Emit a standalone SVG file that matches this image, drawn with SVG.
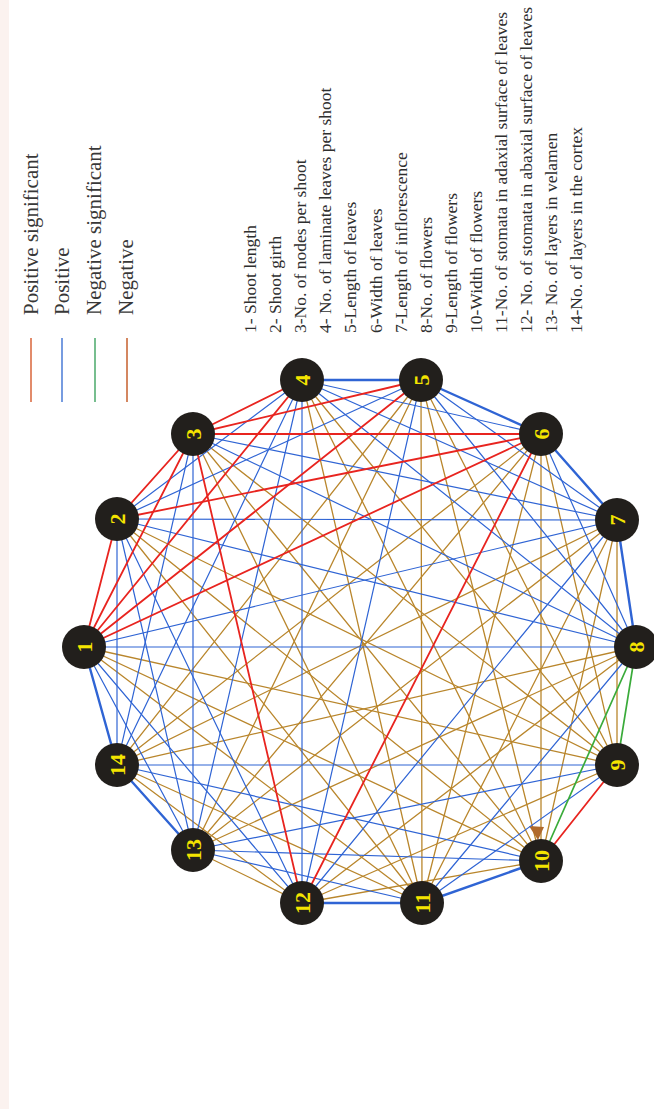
<svg xmlns="http://www.w3.org/2000/svg" width="654" height="1109" viewBox="0 0 654 1109">
<style>
.e line{fill:none;stroke-linecap:round}
.r{stroke:#e8241f;stroke-width:1.8}
.b{stroke:#2f64d4;stroke-width:1.2}
.n{stroke:#b9862c;stroke-width:1.3}
.g{stroke:#3aab3a;stroke-width:1.7}
.p{stroke-width:2.4}
.node ellipse{fill:#221f1c}
.node text{font-family:"Liberation Serif","Times New Roman",serif;font-weight:bold;font-size:22px;fill:#f4e400;text-anchor:middle}
.leg{font-family:"Liberation Serif","Times New Roman",serif;font-size:21px;fill:#383838}
.lst{font-family:"Liberation Serif","Times New Roman",serif;font-size:17.5px;fill:#2f2f2f}
</style>
<rect width="654" height="1109" fill="#ffffff"/>
<rect x="0" y="0" width="9" height="1109" fill="#fbf2ef"/>

<g id="legend">
<line x1="31" y1="338" x2="31" y2="402" stroke="#d8643a" stroke-width="1.5"/>
<line x1="62" y1="338" x2="62" y2="402" stroke="#4a7bd6" stroke-width="1.5"/>
<line x1="95" y1="338" x2="95" y2="402" stroke="#4aa96a" stroke-width="1.5"/>
<line x1="127" y1="338" x2="127" y2="402" stroke="#c65f2c" stroke-width="1.5"/>
<text class="leg" transform="translate(38,315) rotate(-90)">Positive significant</text>
<text class="leg" transform="translate(69,315) rotate(-90)">Positive</text>
<text class="leg" transform="translate(101,315) rotate(-90)">Negative significant</text>
<text class="leg" transform="translate(133,315) rotate(-90)">Negative</text>
</g>

<g id="variable-list">
<text class="lst" transform="translate(256,333) rotate(-90)">1- Shoot length</text>
<text class="lst" transform="translate(281,333) rotate(-90)">2- Shoot girth</text>
<text class="lst" transform="translate(306,333) rotate(-90)">3-No. of nodes per shoot</text>
<text class="lst" transform="translate(331,333) rotate(-90)">4- No. of laminate leaves per shoot</text>
<text class="lst" transform="translate(356,333) rotate(-90)">5-Length of leaves</text>
<text class="lst" transform="translate(382,333) rotate(-90)">6-Width of leaves</text>
<text class="lst" transform="translate(407,333) rotate(-90)">7-Length of inflorescence</text>
<text class="lst" transform="translate(432,333) rotate(-90)">8-No. of flowers</text>
<text class="lst" transform="translate(457,333) rotate(-90)">9-Length of flowers</text>
<text class="lst" transform="translate(482,333) rotate(-90)">10-Width of flowers</text>
<text class="lst" transform="translate(507,333) rotate(-90)">11-No. of stomata in adaxial surface of leaves</text>
<text class="lst" transform="translate(532,333) rotate(-90)">12- No. of stomata in abaxial surface of leaves</text>
<text class="lst" transform="translate(557,333) rotate(-90)">13- No. of layers in velamen</text>
<text class="lst" transform="translate(582,333) rotate(-90)">14-No. of layers in the cortex</text>
</g>

<g id="connectors" class="e">
<line class="n" x1="84" y1="647" x2="617" y2="765"/>
<line class="n" x1="84" y1="647" x2="541" y2="861"/>
<line class="n" x1="84" y1="647" x2="422" y2="903"/>
<line class="n" x1="117" y1="519" x2="617" y2="765"/>
<line class="n" x1="117" y1="519" x2="541" y2="861"/>
<line class="n" x1="117" y1="519" x2="422" y2="903"/>
<line class="n" x1="193" y1="434" x2="617" y2="765"/>
<line class="n" x1="193" y1="434" x2="541" y2="861"/>
<line class="n" x1="193" y1="434" x2="422" y2="903"/>
<line class="n" x1="302" y1="380" x2="617" y2="765"/>
<line class="n" x1="302" y1="380" x2="541" y2="861"/>
<line class="n" x1="302" y1="380" x2="422" y2="903"/>
<line class="n" x1="421" y1="380" x2="617" y2="765"/>
<line class="n" x1="421" y1="380" x2="541" y2="861"/>
<line class="n" x1="421" y1="380" x2="422" y2="903"/>
<line class="n" x1="421" y1="380" x2="193" y2="850"/>
<line class="n" x1="421" y1="380" x2="117" y2="765"/>
<line class="n" x1="541" y1="434" x2="617" y2="765"/>
<line class="n" x1="541" y1="434" x2="541" y2="861"/>
<line class="n" x1="541" y1="434" x2="422" y2="903"/>
<line class="n" x1="541" y1="434" x2="193" y2="850"/>
<line class="n" x1="541" y1="434" x2="117" y2="765"/>
<line class="n" x1="617" y1="520" x2="617" y2="765"/>
<line class="n" x1="617" y1="520" x2="541" y2="861"/>
<line class="n" x1="617" y1="520" x2="422" y2="903"/>
<line class="n" x1="617" y1="520" x2="193" y2="850"/>
<line class="n" x1="617" y1="520" x2="117" y2="765"/>
<line class="n" x1="636" y1="647" x2="302" y2="903"/>
<line class="n" x1="636" y1="647" x2="193" y2="850"/>
<line class="n" x1="636" y1="647" x2="117" y2="765"/>
<line class="n" x1="617" y1="765" x2="302" y2="903"/>
<line class="n" x1="541" y1="861" x2="302" y2="903"/>
<line class="n" x1="422" y1="903" x2="117" y2="765"/>
<line class="n" x1="302" y1="903" x2="193" y2="850"/>
<line class="n" x1="302" y1="903" x2="117" y2="765"/>
<polygon points="529,826 544,827 538,840" fill="#b06a2c"/>
<line class="b" x1="84" y1="647" x2="617" y2="520"/>
<line class="b" x1="84" y1="647" x2="636" y2="647"/>
<line class="b" x1="84" y1="647" x2="302" y2="903"/>
<line class="b" x1="84" y1="647" x2="193" y2="850"/>
<line class="b p" x1="84" y1="647" x2="117" y2="765"/>
<line class="b" x1="117" y1="519" x2="302" y2="380"/>
<line class="b" x1="117" y1="519" x2="421" y2="380"/>
<line class="b" x1="117" y1="519" x2="617" y2="520"/>
<line class="b" x1="117" y1="519" x2="636" y2="647"/>
<line class="b" x1="117" y1="519" x2="302" y2="903"/>
<line class="b" x1="117" y1="519" x2="193" y2="850"/>
<line class="b" x1="117" y1="519" x2="117" y2="765"/>
<line class="b" x1="193" y1="434" x2="617" y2="520"/>
<line class="b" x1="193" y1="434" x2="636" y2="647"/>
<line class="b" x1="193" y1="434" x2="193" y2="850"/>
<line class="b" x1="193" y1="434" x2="117" y2="765"/>
<line class="b p" x1="302" y1="380" x2="421" y2="380"/>
<line class="b" x1="302" y1="380" x2="541" y2="434"/>
<line class="b" x1="302" y1="380" x2="617" y2="520"/>
<line class="b" x1="302" y1="380" x2="636" y2="647"/>
<line class="b" x1="302" y1="380" x2="302" y2="903"/>
<line class="b" x1="302" y1="380" x2="193" y2="850"/>
<line class="b" x1="302" y1="380" x2="117" y2="765"/>
<line class="b p" x1="421" y1="380" x2="541" y2="434"/>
<line class="b" x1="421" y1="380" x2="617" y2="520"/>
<line class="b" x1="421" y1="380" x2="636" y2="647"/>
<line class="b" x1="421" y1="380" x2="302" y2="903"/>
<line class="b p" x1="541" y1="434" x2="617" y2="520"/>
<line class="b" x1="541" y1="434" x2="636" y2="647"/>
<line class="b p" x1="617" y1="520" x2="636" y2="647"/>
<line class="b" x1="617" y1="520" x2="302" y2="903"/>
<line class="b" x1="636" y1="647" x2="422" y2="903"/>
<line class="b" x1="617" y1="765" x2="422" y2="903"/>
<line class="b" x1="617" y1="765" x2="193" y2="850"/>
<line class="b" x1="617" y1="765" x2="117" y2="765"/>
<line class="b p" x1="541" y1="861" x2="422" y2="903"/>
<line class="b" x1="541" y1="861" x2="193" y2="850"/>
<line class="b" x1="541" y1="861" x2="117" y2="765"/>
<line class="b p" x1="422" y1="903" x2="302" y2="903"/>
<line class="b" x1="422" y1="903" x2="193" y2="850"/>
<line class="b p" x1="193" y1="850" x2="117" y2="765"/>
<line class="g" x1="636" y1="647" x2="617" y2="765"/>
<line class="g" x1="636" y1="647" x2="541" y2="861"/>
<line class="r" x1="84" y1="647" x2="117" y2="519"/>
<line class="r" x1="84" y1="647" x2="193" y2="434"/>
<line class="r" x1="84" y1="647" x2="302" y2="380"/>
<line class="r" x1="84" y1="647" x2="421" y2="380"/>
<line class="r" x1="84" y1="647" x2="541" y2="434"/>
<line class="r" x1="117" y1="519" x2="193" y2="434"/>
<line class="r" x1="117" y1="519" x2="541" y2="434"/>
<line class="r" x1="193" y1="434" x2="302" y2="380"/>
<line class="r" x1="193" y1="434" x2="421" y2="380"/>
<line class="r" x1="193" y1="434" x2="541" y2="434"/>
<line class="r" x1="193" y1="434" x2="302" y2="903"/>
<line class="r" x1="541" y1="434" x2="302" y2="903"/>
<line class="r" x1="617" y1="765" x2="541" y2="861"/>
</g>

<g id="node-1" class="node"><ellipse cx="84" cy="647" rx="22" ry="22"/><text transform="translate(84,647) rotate(-90)" y="7.5">1</text></g>
<g id="node-2" class="node"><ellipse cx="117" cy="519" rx="22" ry="22"/><text transform="translate(117,519) rotate(-90)" y="7.5">2</text></g>
<g id="node-3" class="node"><ellipse cx="193" cy="434" rx="22" ry="22"/><text transform="translate(193,434) rotate(-90)" y="7.5">3</text></g>
<g id="node-4" class="node"><ellipse cx="302" cy="380" rx="22" ry="22"/><text transform="translate(302,380) rotate(-90)" y="7.5">4</text></g>
<g id="node-5" class="node"><ellipse cx="421" cy="380" rx="22" ry="22"/><text transform="translate(421,380) rotate(-90)" y="7.5">5</text></g>
<g id="node-6" class="node"><ellipse cx="541" cy="434" rx="22" ry="22"/><text transform="translate(541,434) rotate(-90)" y="7.5">6</text></g>
<g id="node-7" class="node"><ellipse cx="617" cy="520" rx="22" ry="22"/><text transform="translate(617,520) rotate(-90)" y="7.5">7</text></g>
<g id="node-8" class="node"><ellipse cx="636" cy="647" rx="22" ry="22"/><text transform="translate(636,647) rotate(-90)" y="7.5">8</text></g>
<g id="node-9" class="node"><ellipse cx="617" cy="765" rx="22" ry="22"/><text transform="translate(617,765) rotate(-90)" y="7.5">9</text></g>
<g id="node-10" class="node"><ellipse cx="541" cy="861" rx="22" ry="22"/><text transform="translate(541,861) rotate(-90)" y="7.5">10</text></g>
<g id="node-11" class="node"><ellipse cx="422" cy="903" rx="22" ry="22"/><text transform="translate(422,903) rotate(-90)" y="7.5">11</text></g>
<g id="node-12" class="node"><ellipse cx="302" cy="903" rx="22" ry="22"/><text transform="translate(302,903) rotate(-90)" y="7.5">12</text></g>
<g id="node-13" class="node"><ellipse cx="193" cy="850" rx="22" ry="22"/><text transform="translate(193,850) rotate(-90)" y="7.5">13</text></g>
<g id="node-14" class="node"><ellipse cx="117" cy="765" rx="22" ry="22"/><text transform="translate(117,765) rotate(-90)" y="7.5">14</text></g>
</svg>
